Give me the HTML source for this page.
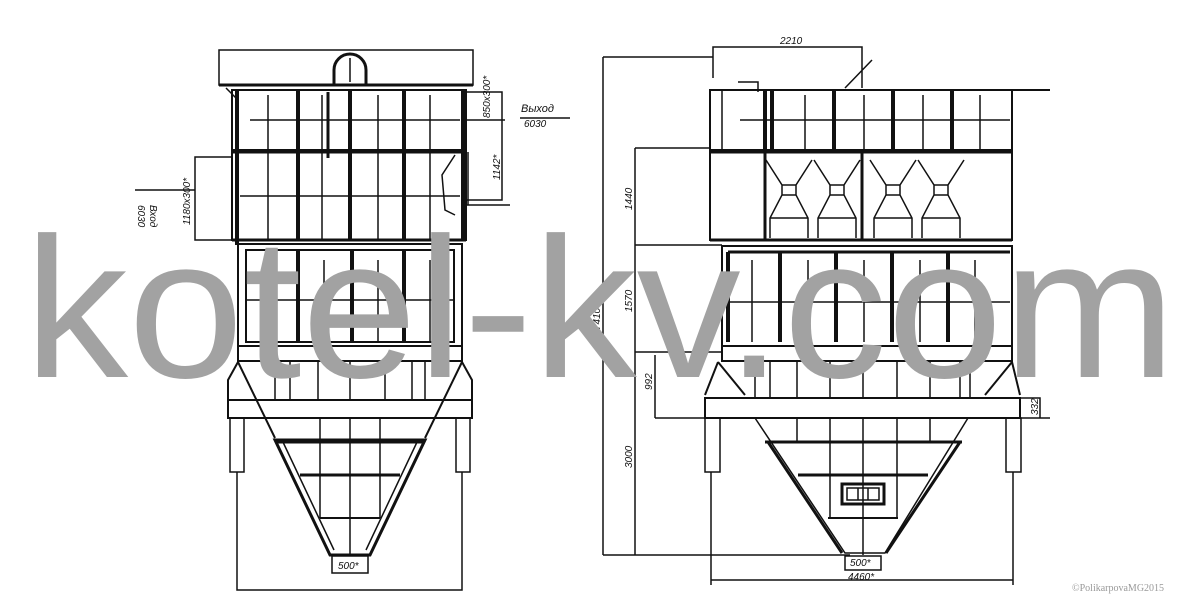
<!DOCTYPE html>
<html><head><meta charset="utf-8"><style>html,body{margin:0;padding:0;background:#fff}svg{display:block}</style></head>
<body>
<svg width="1200" height="600" viewBox="0 0 1200 600" xmlns="http://www.w3.org/2000/svg" font-family="Liberation Sans, sans-serif">
<rect width="1200" height="600" fill="#fff"/>
<g stroke="#111" fill="none" stroke-width="1.5">
<!-- LEFT VIEW -->
<rect x="219" y="50" width="254" height="35"/>
<path d="M334 84 V70 A16 16 0 0 1 366 70 V84" stroke-width="3"/>
<line x1="350" y1="58" x2="350" y2="82"/>
<line x1="219" y1="85" x2="473" y2="85" stroke-width="3"/>
<path d="M226 88 L238 100"/>
<rect x="232" y="90" width="234" height="60" stroke-width="2"/>
<g stroke-width="4"><line x1="237" y1="90" x2="237" y2="245"/><line x1="298" y1="90" x2="298" y2="240"/><line x1="350" y1="90" x2="350" y2="240"/><line x1="404" y1="90" x2="404" y2="240"/><line x1="463" y1="90" x2="463" y2="240"/></g>
<g><line x1="268" y1="95" x2="268" y2="240"/><line x1="322" y1="95" x2="322" y2="240"/><line x1="378" y1="95" x2="378" y2="240"/><line x1="430" y1="95" x2="430" y2="240"/><line x1="250" y1="120" x2="460" y2="120"/></g>
<line x1="328" y1="92" x2="328" y2="158" stroke-width="3"/>
<line x1="232" y1="152" x2="466" y2="152" stroke-width="3"/>
<rect x="232" y="152" width="234" height="88" stroke-width="2"/>
<line x1="240" y1="196" x2="460" y2="196"/>
<rect x="195" y="157" width="37" height="83"/>
<path d="M466 92 H502 V200 H466 M466 120 H505"/>
<path d="M455 155 L442 175 L445 210 L455 215"/>
<line x1="232" y1="240" x2="466" y2="240" stroke-width="3"/>
<rect x="238" y="244" width="224" height="102" stroke-width="2"/>
<rect x="246" y="250" width="208" height="92" stroke-width="2"/>
<g stroke-width="4"><line x1="298" y1="250" x2="298" y2="342"/><line x1="352" y1="250" x2="352" y2="342"/><line x1="404" y1="250" x2="404" y2="342"/></g>
<g><line x1="272" y1="260" x2="272" y2="342"/><line x1="324" y1="260" x2="324" y2="342"/><line x1="378" y1="260" x2="378" y2="342"/><line x1="430" y1="260" x2="430" y2="342"/><line x1="246" y1="300" x2="454" y2="300"/></g>
<rect x="238" y="346" width="224" height="15" stroke-width="2"/>
<path d="M238 362 L228 380 V400 M462 362 L472 380 V400 M238 362 L275 438 M462 362 L425 438" stroke-width="2"/>
<g><line x1="275" y1="362" x2="275" y2="400"/><line x1="290" y1="362" x2="290" y2="400"/><line x1="318" y1="362" x2="318" y2="400"/><line x1="350" y1="362" x2="350" y2="400"/><line x1="385" y1="362" x2="385" y2="400"/><line x1="412" y1="362" x2="412" y2="400"/><line x1="425" y1="362" x2="425" y2="400"/></g>
<rect x="228" y="400" width="244" height="18" stroke-width="2"/>
<rect x="230" y="418" width="14" height="54"/><rect x="456" y="418" width="14" height="54"/>
<path d="M275 440 L330 555 H370 L425 440 Z" stroke-width="3"/>
<path d="M282 440 L334 550 M418 440 L366 550"/>
<line x1="275" y1="442" x2="425" y2="442" stroke-width="3"/>
<line x1="300" y1="475" x2="400" y2="475" stroke-width="3"/>
<line x1="320" y1="518" x2="380" y2="518" stroke-width="2"/>
<g><line x1="320" y1="418" x2="320" y2="518"/><line x1="350" y1="418" x2="350" y2="555"/><line x1="380" y1="418" x2="380" y2="518"/></g>
<rect x="332" y="556" width="36" height="17"/>
<path d="M237 472 V590 H462 V472"/>
<!-- RIGHT VIEW -->
<path d="M713 78 V47 H862 V88 M872 60 L845 88"/>
<path d="M738 82 H758 V92"/>
<line x1="710" y1="90" x2="1050" y2="90" stroke-width="2"/>
<rect x="710" y="90" width="302" height="60" stroke-width="2"/>
<g stroke-width="4"><line x1="765" y1="90" x2="765" y2="150"/><line x1="772" y1="90" x2="772" y2="150"/><line x1="834" y1="90" x2="834" y2="150"/><line x1="893" y1="90" x2="893" y2="150"/><line x1="952" y1="90" x2="952" y2="150"/></g>
<g><line x1="722" y1="90" x2="722" y2="150"/><line x1="805" y1="95" x2="805" y2="150"/><line x1="864" y1="95" x2="864" y2="150"/><line x1="923" y1="95" x2="923" y2="150"/><line x1="980" y1="95" x2="980" y2="150"/><line x1="740" y1="120" x2="1010" y2="120"/></g>
<line x1="710" y1="152" x2="1012" y2="152" stroke-width="3"/>
<rect x="710" y="152" width="302" height="88" stroke-width="2"/>
<line x1="765" y1="152" x2="765" y2="240" stroke-width="3"/>
<line x1="862" y1="152" x2="862" y2="240" stroke-width="3"/>
<g id="cy"><path d="M766 160 L782 185 V195 L770 218 V238 M812 160 L796 185 V195 L808 218 V238 M770 218 H808 M782 195 H796 M782 185 H796"/></g>
<use href="#cy" transform="translate(48 0)"/><use href="#cy" transform="translate(104 0)"/><use href="#cy" transform="translate(152 0)"/>
<line x1="710" y1="240" x2="1012" y2="240" stroke-width="3"/>
<rect x="722" y="246" width="290" height="100" stroke-width="2"/>
<line x1="728" y1="252" x2="1010" y2="252" stroke-width="3"/>
<g stroke-width="4"><line x1="780" y1="252" x2="780" y2="342"/><line x1="836" y1="252" x2="836" y2="342"/><line x1="892" y1="252" x2="892" y2="342"/><line x1="948" y1="252" x2="948" y2="342"/><line x1="728" y1="252" x2="728" y2="342"/></g>
<g><line x1="752" y1="260" x2="752" y2="342"/><line x1="808" y1="260" x2="808" y2="342"/><line x1="864" y1="260" x2="864" y2="342"/><line x1="920" y1="260" x2="920" y2="342"/><line x1="975" y1="260" x2="975" y2="342"/><line x1="728" y1="302" x2="1010" y2="302"/></g>
<rect x="722" y="346" width="290" height="15" stroke-width="2"/>
<path d="M718 362 L705 395 M1012 362 L1020 395 M718 362 L745 395 M1012 362 L985 395" stroke-width="2"/>
<g><line x1="755" y1="362" x2="755" y2="398"/><line x1="770" y1="362" x2="770" y2="398"/><line x1="797" y1="362" x2="797" y2="398"/><line x1="830" y1="362" x2="830" y2="398"/><line x1="863" y1="362" x2="863" y2="398"/><line x1="897" y1="362" x2="897" y2="398"/><line x1="930" y1="362" x2="930" y2="398"/><line x1="960" y1="362" x2="960" y2="398"/><line x1="970" y1="362" x2="970" y2="398"/></g>
<rect x="705" y="398" width="315" height="20" stroke-width="2"/>
<rect x="705" y="418" width="15" height="54"/><rect x="1006" y="418" width="15" height="54"/>
<path d="M755 418 L845 553 H885 L968 418" stroke-width="1.5"/>
<path d="M768 442 L842 553 M960 442 L886 553" stroke-width="3"/>
<line x1="765" y1="442" x2="962" y2="442" stroke-width="3"/>
<line x1="798" y1="475" x2="928" y2="475" stroke-width="3"/>
<line x1="828" y1="518" x2="898" y2="518" stroke-width="2"/>
<g><line x1="797" y1="418" x2="797" y2="442"/><line x1="830" y1="418" x2="830" y2="518"/><line x1="863" y1="418" x2="863" y2="555"/><line x1="897" y1="418" x2="897" y2="518"/><line x1="930" y1="418" x2="930" y2="442"/></g>
<rect x="842" y="484" width="42" height="20" stroke-width="3"/><rect x="847" y="488" width="32" height="12"/>
<line x1="858" y1="488" x2="858" y2="500"/><line x1="868" y1="488" x2="868" y2="500"/>
<rect x="845" y="556" width="36" height="14"/>
<path d="M711 472 V585 M1013 472 V585 M711 580 H1013"/>
<!-- dimensions -->
<path d="M603 57 V555 M603 57 H713 M603 555 H850"/>
<path d="M635 148 V555 M635 148 H710 M635 245 H722 M635 352 H722"/>
<path d="M655 355 V418 M655 418 H1050"/>
<path d="M1020 398 H1040 V418"/>
<path d="M468 152 V205 M466 205 H510"/>
<path d="M520 118 H570"/><path d="M135 190 H195"/>
</g>
<g fill="#111" font-style="italic" font-size="10">
<text x="780" y="44">2210</text>
<text x="521" y="112" font-size="11">Выход</text><text x="524" y="127">6030</text>
<text transform="translate(632 210) rotate(-90)">1440</text>
<text transform="translate(632 312) rotate(-90)">1570</text>
<text transform="translate(652 390) rotate(-90)">992</text>
<text transform="translate(600 330) rotate(-90)">7410*</text>
<text transform="translate(632 468) rotate(-90)">3000</text>
<text transform="translate(1038 415) rotate(-90)">332</text>
<text transform="translate(490 118) rotate(-90)">850x300*</text>
<text transform="translate(500 180) rotate(-90)">1142*</text>
<text transform="translate(190 225) rotate(-90)">1180x300*</text>
<text transform="translate(150 205) rotate(90)">Вход</text>
<text transform="translate(138 205) rotate(90)">6030</text>
<text x="338" y="569">500*</text>
<text x="850" y="566">500*</text>
<text x="848" y="580">4460*</text>
</g>
<text x="24" y="377" font-size="200" fill="#a2a2a2" textLength="1152" lengthAdjust="spacingAndGlyphs">kotel-kv.com</text>
<text x="1072" y="591" font-family="Liberation Serif, serif" font-size="10" fill="#999">©PolikarpovaMG2015</text>
</svg>
</body></html>
